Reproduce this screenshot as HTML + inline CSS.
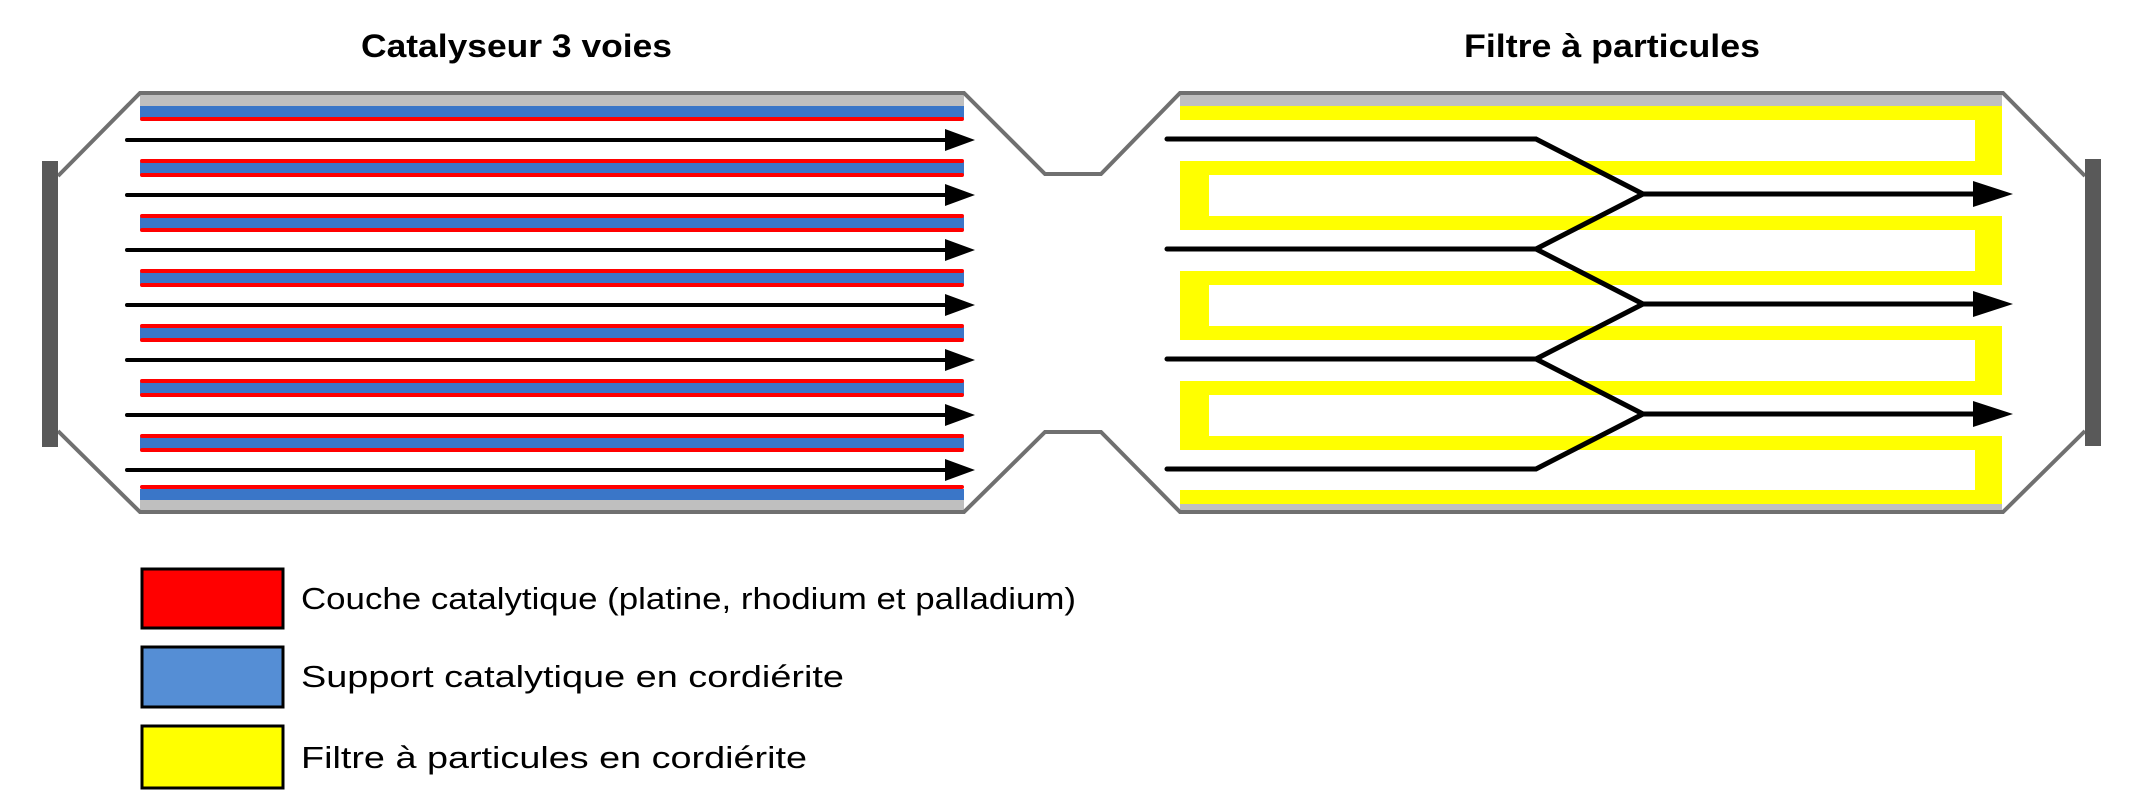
<!DOCTYPE html>
<html><head><meta charset="utf-8"><style>
html,body{margin:0;padding:0;background:#fff;}
svg{display:block;}
text{font-family:"Liberation Sans",Arial,sans-serif;}
</style></head><body>
<svg width="2150" height="804" viewBox="0 0 2150 804" xmlns="http://www.w3.org/2000/svg">
<text x="361" y="57" font-size="32" font-weight="bold" textLength="311" lengthAdjust="spacingAndGlyphs">Catalyseur 3 voies</text>
<text x="1464" y="57" font-size="32" font-weight="bold" textLength="296" lengthAdjust="spacingAndGlyphs">Filtre à particules</text>

<!-- left catalyst -->
<rect x="140" y="95" width="824" height="11" fill="#bfbfbf"/>
<rect x="140" y="106" width="824" height="12" fill="#3a76c8"/>
<line x1="142" y1="119" x2="962" y2="119" stroke="#f00" stroke-width="4" stroke-linecap="round"/>
<rect x="140" y="499" width="824" height="11" fill="#bfbfbf"/>
<rect x="140" y="489" width="824" height="11" fill="#3a76c8"/>
<line x1="142" y1="487" x2="962" y2="487" stroke="#f00" stroke-width="4" stroke-linecap="round"/>
<g id="plates">
<g>
<rect x="140" y="162" width="824" height="13" fill="#3a76c8"/>
<line x1="142" y1="161" x2="962" y2="161" stroke="#f00" stroke-width="4" stroke-linecap="round"/>
<line x1="142" y1="175" x2="962" y2="175" stroke="#f00" stroke-width="4" stroke-linecap="round"/>
</g>
</g>
<use href="#plates" y="55"/><use href="#plates" y="110"/><use href="#plates" y="165"/><use href="#plates" y="220"/><use href="#plates" y="275"/>
<g id="arr">
<line x1="127" y1="140" x2="950" y2="140" stroke="#000" stroke-width="4" stroke-linecap="round"/>
<path d="M945,129 L975,140 L945,151 Z" fill="#000"/>
</g>
<use href="#arr" y="55"/><use href="#arr" y="110"/><use href="#arr" y="165"/><use href="#arr" y="220"/><use href="#arr" y="275"/><use href="#arr" y="330"/>

<!-- right filter -->
<rect x="1180" y="95" width="822" height="11" fill="#bfbfbf"/>
<rect x="1180" y="500" width="822" height="11" fill="#bfbfbf"/>
<g fill="#ff0">
<rect x="1180" y="106" width="822" height="14"/>
<rect x="1180" y="161" width="822" height="14"/>
<rect x="1180" y="216" width="822" height="14"/>
<rect x="1180" y="271" width="822" height="14"/>
<rect x="1180" y="326" width="822" height="14"/>
<rect x="1180" y="381" width="822" height="14"/>
<rect x="1180" y="436" width="822" height="14"/>
<rect x="1180" y="490" width="822" height="14"/>
<rect x="1975" y="106" width="27" height="69"/>
<rect x="1975" y="216" width="27" height="69"/>
<rect x="1975" y="326" width="27" height="69"/>
<rect x="1975" y="436" width="27" height="68"/>
<rect x="1180" y="161" width="29" height="69"/>
<rect x="1180" y="271" width="29" height="69"/>
<rect x="1180" y="381" width="29" height="69"/>
</g>
<g stroke="#000" stroke-width="5" fill="none" stroke-linecap="round" stroke-linejoin="miter">
<polyline points="1167,139 1536,139 1643,194"/>
<polyline points="1167,249 1536,249 1643,194"/>
<polyline points="1536,249 1643,304"/>
<polyline points="1167,359 1536,359 1643,304"/>
<polyline points="1536,359 1643,414"/>
<polyline points="1167,469 1536,469 1643,414"/>
</g>
<g id="arr2">
<line x1="1643" y1="194" x2="1980" y2="194" stroke="#000" stroke-width="5"/>
<path d="M1973,181 L2013,194 L1973,207 Z" fill="#000"/>
</g>
<use href="#arr2" y="110"/><use href="#arr2" y="220"/>

<!-- casing outline -->
<g stroke="#707070" stroke-width="4" fill="none" stroke-linejoin="miter">
<polyline points="58,176 140,93 964,93 1045,174 1101,174 1180,93 2003,93 2085,176"/>
<polyline points="58,431 140,512 964,512 1045,432 1101,432 1180,512 2003,512 2085,431"/>
</g>
<rect x="42" y="161" width="16" height="286" fill="#595959"/>
<rect x="2085" y="159" width="16" height="287" fill="#595959"/>

<!-- legend -->
<rect x="142" y="569" width="141" height="59" fill="#f00" stroke="#000" stroke-width="3"/>
<rect x="142" y="647" width="141" height="60" fill="#558ed5" stroke="#000" stroke-width="3"/>
<rect x="142" y="726" width="141" height="62" fill="#ff0" stroke="#000" stroke-width="3"/>
<text x="301" y="609" font-size="31" textLength="775" lengthAdjust="spacingAndGlyphs">Couche catalytique (platine, rhodium et palladium)</text>
<text x="301" y="687" font-size="31" textLength="543" lengthAdjust="spacingAndGlyphs">Support catalytique en cordiérite</text>
<text x="301" y="768" font-size="31" textLength="506" lengthAdjust="spacingAndGlyphs">Filtre à particules en cordiérite</text>
</svg>
</body></html>
